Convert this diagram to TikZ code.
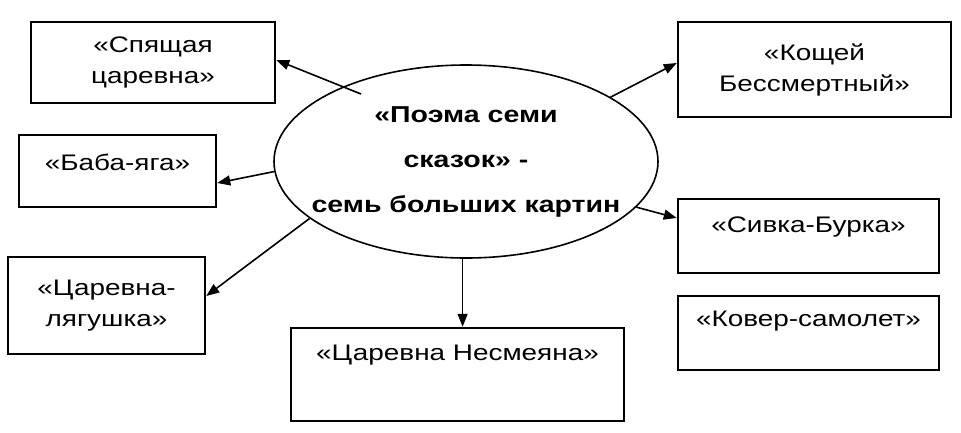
\documentclass[tikz,border=0pt]{standalone}
\usepackage{fontspec}
\setmainfont[FakeStretch=1.24]{Liberation Sans}
\usetikzlibrary{shapes.geometric,arrows.meta}
\begin{document}
\begin{tikzpicture}[x=1pt,y=-1pt,
  box/.style={draw, line width=2.5pt, rectangle, inner sep=0pt, align=center},
  arr/.style={line width=1.6pt, -{Triangle[length=13pt,width=10pt]}},
  font=\fontsize{22.5}{31}\selectfont]
\useasboundingbox (0,0) rectangle (961,432);
\node[ellipse, draw, line width=1.6pt, minimum width=384pt, minimum height=193pt, inner sep=0pt] (poema) at (466,161.5){};
\node[align=center, inner sep=0pt, font=\fontsize{23}{45}\selectfont\bfseries] (poematxt) at (poema.center){«Поэма семи\\сказок» -\\семь больших картин};
\node[box, minimum width=244pt, minimum height=81pt] (spyash) at (153,62.5){«Спящая\\царевна»};
\draw[arr]([shift={(-105pt,67.5pt)}]poema.center) -- ([yshift=2.5pt]spyash.east);
\node[box, minimum width=197pt, minimum height=72pt, text height=16pt, text depth=18pt] (baba) at (117.5,171){«Баба-яга»};
\draw[arr](poema.183) -- ([yshift=-12pt]baba.east);
\node[box, minimum width=197pt, minimum height=97pt] (lyag) at (106.5,305.5){«Царевна-\\лягушка»};
\draw[arr](poema.200) -- ([yshift=9.5pt]lyag.east);
\node[box, minimum width=333pt, minimum height=93pt, text height=16pt, text depth=45pt] (nesm) at (457.5,374.5){«Царевна Несмеяна»};
\draw[arr](poema.268) -- (poema.268 |- nesm.north);
\node[box, minimum width=273pt, minimum height=95pt] (koshch) at (814.5,69.5){«Кощей\\Бессмертный»};
\draw[arr](poema.24) -- ([yshift=6.5pt]koshch.west);
\node[box, minimum width=261pt, minimum height=74pt, text height=16pt, text depth=24pt] (sivka) at (808.5,236){«Сивка-Бурка»};
\draw[arr](poema.345) -- ([yshift=18pt]sivka.west);
\node[box, minimum width=261pt, minimum height=74pt, text height=16pt, text depth=30pt] (kover) at (808.5,333){«Ковер-самолет»};
\end{tikzpicture}
\end{document}
